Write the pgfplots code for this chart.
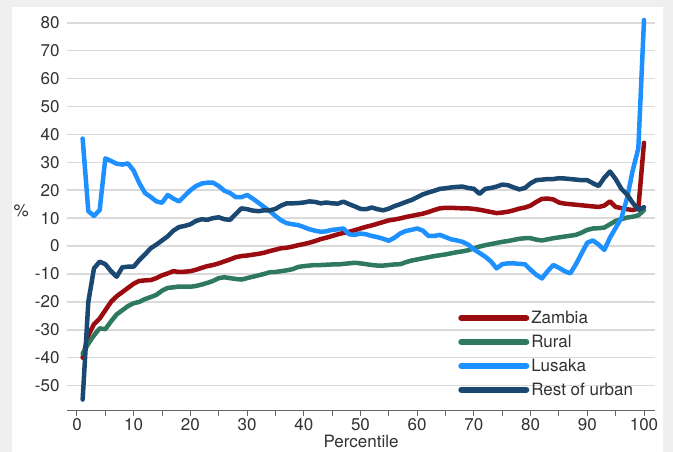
\documentclass[border=0pt]{standalone}
\usepackage{pgfplots}
\pgfplotsset{compat=1.18}
\usepackage{pgfplotstable}
\usepackage{fontspec}
\setmainfont{TeX Gyre Heros}
\definecolor{zam}{RGB}{155,12,16}
\definecolor{rur}{RGB}{47,122,95}
\definecolor{lus}{RGB}{30,144,255}
\definecolor{rou}{RGB}{26,72,112}
\definecolor{bggray}{RGB}{239,239,239}
\definecolor{gridgray}{RGB}{218,218,218}
\definecolor{txt}{RGB}{50,50,50}

\pgfplotstableread{
p zam rur lus rou
1 -40 -38.5 38.5 -55
2 -32 -35 12.5 -20
3 -28 -32 10.8 -8
4 -26 -29.5 12.9 -5.6
5 -23 -29.8 31.4 -6.5
6 -20 -27 30.5 -9
7 -18 -24.5 29.5 -11
8 -16.5 -23 29.2 -7.6
9 -15 -21.5 29.6 -7.4
10 -13.5 -20.5 27 -7.4
11 -12.5 -20 22.5 -5
12 -12.3 -19 19 -3
13 -12.2 -18.3 17.6 -0.8
14 -11.5 -17.5 16 0.5
15 -10.5 -16 15.5 2
16 -9.8 -15 18.3 3.5
17 -9 -14.8 17 5.5
18 -9.3 -14.5 16 6.8
19 -9.2 -14.5 18 7.2
20 -9 -14.6 20 7.8
21 -8.5 -14.3 21.5 9
22 -7.8 -13.8 22.4 9.6
23 -7.2 -13.2 22.7 9.4
24 -6.8 -12.5 22.7 10
25 -6.2 -11.5 21.5 10.3
26 -5.5 -11.2 19.8 9.6
27 -4.8 -11.5 19 9.4
28 -4 -11.8 17.5 11.5
29 -3.6 -12 17.5 13.5
30 -3.4 -11.5 18.3 13.2
31 -3.1 -11 17 12.7
32 -2.8 -10.5 15.5 12.5
33 -2.4 -10 14 12.8
34 -1.8 -9.4 12.5 12.8
35 -1.3 -9.3 10.8 13.3
36 -0.8 -9 9.2 14.5
37 -0.6 -8.7 8.2 15.3
38 -0.2 -8.3 7.8 15.3
39 0.3 -7.5 7.5 15.4
40 0.7 -7.2 6.8 15.6
41 1.2 -7 6 16
42 1.8 -6.8 5.5 15.8
43 2.5 -6.8 5.1 15.3
44 3 -6.7 5.3 15.6
45 3.6 -6.6 5.8 15.3
46 4.2 -6.6 6 15.2
47 4.7 -6.4 6.3 15.9
48 5.1 -6.2 4.2 15
49 5.7 -6 4 14.2
50 6.3 -6.2 4.5 13.3
51 6.9 -6.5 4.2 13.2
52 7.4 -6.8 3.6 13.8
53 8 -7 3.2 13.2
54 8.6 -7 2.6 12.8
55 9.2 -6.8 1.9 13.4
56 9.5 -6.6 3 14.3
57 9.9 -6.5 4.5 15
58 10.4 -5.8 5.4 15.8
59 10.8 -5.2 5.8 16.5
60 11.2 -4.8 6.3 17.5
61 11.6 -4.4 5.5 18.5
62 12.2 -4 3.6 19.2
63 12.9 -3.6 3.6 19.8
64 13.5 -3.3 4 20.5
65 13.7 -3 3.2 20.7
66 13.7 -2.6 2.4 21
67 13.6 -2.2 2 21.2
68 13.5 -1.9 1.5 21.3
69 13.5 -1.5 0.5 20.8
70 13.3 -0.8 -1.2 20.5
71 13 -0.2 -2.5 18.7
72 12.6 0.3 -3.8 20.5
73 12.2 0.7 -5.5 20.8
74 11.8 1.1 -8 21.3
75 12 1.5 -6.5 22
76 12.3 1.8 -6.2 21.8
77 12.8 2.2 -6.2 21
78 13.4 2.6 -6.4 20.3
79 13.8 2.8 -6.5 20.8
80 14.5 2.8 -8.5 22.5
81 15.8 2.3 -10.3 23.6
82 16.9 2 -11.6 23.8
83 17 2.4 -9 24
84 16.7 2.8 -6.8 24
85 15.6 3.1 -7.8 24.3
86 15.2 3.4 -9 24.2
87 15 3.7 -9.8 24
88 14.8 4 -6.5 23.8
89 14.6 4.8 -2.6 23.6
90 14.4 5.8 1.2 23.6
91 14.2 6.3 2 22.5
92 14 6.4 0.5 21.5
93 14.5 6.6 -1.4 24.5
94 16 7.8 3 26.7
95 14 9 6.5 24
96 13.6 9.6 10 20.5
97 13.2 10.2 17 18.5
98 12.9 10.5 27 15.5
99 13.4 11 35 13
100 37 12.9 81 13.9
}\datatable

\begin{document}
\begin{tikzpicture}[x=1pt,y=1pt,font=\fontsize{17}{19}\selectfont,text=txt]
\useasboundingbox (0,0) rectangle (673,-452);
\fill[bggray] (0,0) rectangle (673,-452);
\fill[white] (12,-7) rectangle (663,-452);
\begin{axis}[
  at={(67pt,-410.7pt)}, anchor=south west,
  scale only axis, width=588pt, height=396.3pt,
  xmin=-1.76, xmax=101.94, ymin=-59, ymax=83,
  axis lines*=left,
  y axis line style={draw=none},
  x axis line style={draw=black!60, line width=1.2pt},
  xtick={0,10,...,100}, minor x tick num=1,
  ytick={-50,-40,...,80},
  tick align=outside,
  major tick length=5pt, minor tick length=5pt,
  x tick style={draw=black!60, line width=1pt},
  y tick style={draw=none},
  ymajorgrids, major grid style={draw=gridgray, line width=1.5pt},
  /pgf/number format/assume math mode=true,
  ticklabel style={font=\fontsize{17}{19}\selectfont, text=txt},
  yticklabel style={xshift=1pt},
  xticklabel style={yshift=1pt},
  xlabel={Percentile}, ylabel={\%},
  label style={font=\fontsize{17}{19}\selectfont},
  xlabel style={at={(axis description cs:0.5,-0.078)}, anchor=center},
  ylabel style={at={(axis description cs:-0.078,0.506)}, anchor=center, rotate=-90},
  legend cell align=left,
  legend style={draw=none, fill=none, at={(0.66,0.262)}, anchor=north west,
    row sep=6pt, font=\fontsize{17}{19}\selectfont},
  legend image code/.code={\draw[#1, line width=6pt] (0pt,0pt) -- (65pt,0pt);},
  every axis plot/.append style={line width=4.5pt, line join=round, line cap=round},
]
\addplot[zam, no markers] table[x=p, y=zam] {\datatable};
\addplot[rur, no markers] table[x=p, y=rur] {\datatable};
\addplot[lus, no markers] table[x=p, y=lus] {\datatable};
\addplot[rou, no markers] table[x=p, y=rou] {\datatable};
\legend{Zambia, Rural, Lusaka, Rest of urban}
\end{axis}
\end{tikzpicture}
\end{document}
